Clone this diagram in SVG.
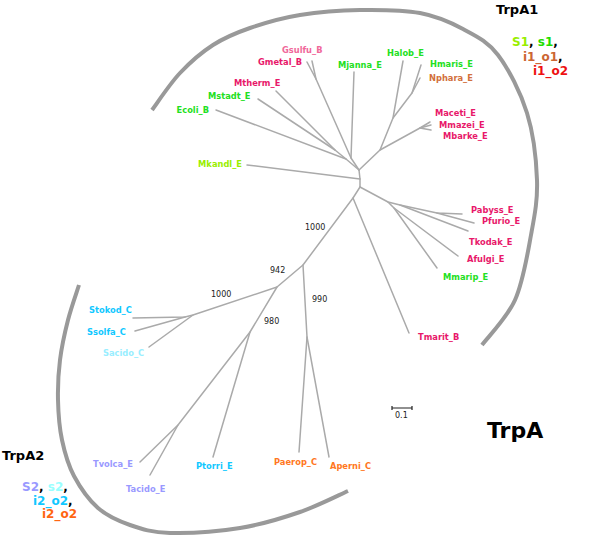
<svg xmlns="http://www.w3.org/2000/svg" width="600" height="539" viewBox="0 0 600 539">
<style>
.br{fill:none;stroke:#aaaaaa;stroke-width:1.5;stroke-linecap:round;stroke-linejoin:round}
.arc{fill:none;stroke:#999999;stroke-width:4}
.lb{font-family:"DejaVu Sans",Verdana,sans-serif;font-weight:bold;font-size:8.3px}
.bs{font-family:"DejaVu Sans",Verdana,sans-serif;font-size:8px;fill:#222}
.big{font-family:"DejaVu Sans",Verdana,sans-serif;font-weight:bold}
.mag{fill:#e8186a}.pink{fill:#f0689a}.grn{fill:#22e022}.yg{fill:#99ee00}.brn{fill:#d2703c}
.cy{fill:#11c8ff}.lcy{fill:#99eeff}.lav{fill:#9999ff}.org{fill:#ff7722}
</style>
<rect width="600" height="539" fill="#ffffff"/>
<g id="arcs">
<path id="arc1" class="arc" d="M152,110 C156.7,103.8 169.8,83.8 180,73 C190.2,62.2 201.3,52.5 213,45 C224.7,37.5 235.5,33 250,28 C264.5,23 281.7,18 300,15 C318.3,12 340,10.3 360,10 C380,9.7 402.8,9.8 420,13 C437.2,16.2 450,22 463,29 C476,36 487.3,41 498,55 C508.7,69 520.5,92.2 527,113 C533.5,133.8 536.3,159.7 537,180 C537.7,200.3 534.7,215 531,235 C527.3,255 523.2,281.7 515,300 C506.8,318.3 487.5,337.5 482,345"/>
<path id="arc2" class="arc" d="M79,285 C77.2,290.8 71.2,307.5 68,320 C64.8,332.5 61.7,346.7 60,360 C58.3,373.3 57.7,386.7 58,400 C58.3,413.3 59.3,427.3 62,440 C64.7,452.7 68,464.7 74,476 C80,487.3 88.7,499.8 98,508 C107.3,516.2 118,520.8 130,525 C142,529.2 151.7,532.5 170,533 C188.3,533.5 218.3,531.5 240,528 C261.7,524.5 282,518.2 300,512 C318,505.8 340,494.5 348,491"/>
</g>
<g id="connectors">
<path class="br" d="M359,170 L360,179 L360,187"/>
<path class="br" d="M247,165 L360,179"/>
<path class="br" d="M354,72 L351,158 L359,170"/>
<path class="br" d="M307,62 L316,79 L351,158"/>
<path class="br" d="M312,61 L316,79"/>
<path class="br" d="M276,91 L335,150 L346,159 L359,170"/>
<path class="br" d="M258,99 L335,150"/>
<path class="br" d="M216,110 L346,159"/>
<path class="br" d="M359,170 L380,150 L420,128 L430,122"/>
<path class="br" d="M420,128 L431,125"/>
<path class="br" d="M420,128 L431,130"/>
<path class="br" d="M380,150 L393,118 L403,61"/>
<path class="br" d="M393,118 L412,93 L421,65"/>
<path class="br" d="M412,93 L420,78"/>
<path class="br" d="M360,187 L388,202 L400,205 L437,213 L462,214"/>
<path class="br" d="M437,213 L474,223"/>
<path class="br" d="M400,205 L468,231"/>
<path class="br" d="M388,202 L394,208 L458,256"/>
<path class="br" d="M394,208 L437,268"/>
<path class="br" d="M360,187 L353,198 L409,333"/>
<path class="br" d="M353,198 L303,265 L277,287 L193,315 L185,317 L133,318"/>
<path class="br" d="M185,317 L135,331"/>
<path class="br" d="M193,315 L149,347"/>
<path class="br" d="M303,265 L307,337 L299,452"/>
<path class="br" d="M307,337 L329,457"/>
<path class="br" d="M277,287 L250,332 L178,425 L140,462"/>
<path class="br" d="M178,425 L150,475"/>
<path class="br" d="M250,332 L213,457"/>
</g>
<g id="scalebar">
<path d="M392,406 L392,410 M392,408 L412,408 M412,406 L412,410" fill="none" stroke="#222" stroke-width="1.2"/>
<text class="bs" x="395" y="418">0.1</text>
</g>
<g id="bootstrap">
<text class="bs" x="305" y="230">1000</text>
<text class="bs" x="270" y="273">942</text>
<text class="bs" x="211" y="297">1000</text>
<text class="bs" x="312" y="302">990</text>
<text class="bs" x="264" y="324">980</text>
</g>
<g id="leaves">
<g id="Gsulfu_B"><text class="lb pink" x="282" y="52.5">Gsulfu_B</text></g>
<g id="Gmetal_B"><text class="lb mag" x="258" y="64.5">Gmetal_B</text></g>
<g id="Mtherm_E"><text class="lb mag" x="234" y="86">Mtherm_E</text></g>
<g id="Mstadt_E"><text class="lb grn" x="208" y="99">Mstadt_E</text></g>
<g id="Ecoli_B"><text class="lb grn" x="209" y="113" text-anchor="end">Ecoli_B</text></g>
<g id="Mjanna_E"><text class="lb grn" x="338" y="67.5">Mjanna_E</text></g>
<g id="Halob_E"><text class="lb grn" x="387" y="55.5">Halob_E</text></g>
<g id="Hmaris_E"><text class="lb grn" x="430" y="67">Hmaris_E</text></g>
<g id="Nphara_E"><text class="lb brn" x="429" y="81">Nphara_E</text></g>
<g id="Maceti_E"><text class="lb mag" x="435" y="116">Maceti_E</text></g>
<g id="Mmazei_E"><text class="lb mag" x="439" y="127.5">Mmazei_E</text></g>
<g id="Mbarke_E"><text class="lb mag" x="443" y="139">Mbarke_E</text></g>
<g id="Mkandl_E"><text class="lb yg" x="242" y="167" text-anchor="end">Mkandl_E</text></g>
<g id="Pabyss_E"><text class="lb mag" x="471" y="213">Pabyss_E</text></g>
<g id="Pfurio_E"><text class="lb mag" x="482" y="224">Pfurio_E</text></g>
<g id="Tkodak_E"><text class="lb mag" x="469" y="245">Tkodak_E</text></g>
<g id="Afulgi_E"><text class="lb mag" x="467" y="262">Afulgi_E</text></g>
<g id="Mmarip_E"><text class="lb grn" x="443" y="280">Mmarip_E</text></g>
<g id="Tmarit_B"><text class="lb mag" x="418" y="340">Tmarit_B</text></g>
<g id="Paerop_C"><text class="lb org" x="274" y="465">Paerop_C</text></g>
<g id="Aperni_C"><text class="lb org" x="330" y="469">Aperni_C</text></g>
<g id="Stokod_C"><text class="lb cy" x="89" y="313">Stokod_C</text></g>
<g id="Ssolfa_C"><text class="lb cy" x="87" y="335">Ssolfa_C</text></g>
<g id="Sacido_C"><text class="lb lcy" x="103" y="356">Sacido_C</text></g>
<g id="Tvolca_E"><text class="lb lav" x="93" y="467">Tvolca_E</text></g>
<g id="Tacido_E"><text class="lb lav" x="126" y="492">Tacido_E</text></g>
<g id="Ptorri_E"><text class="lb cy" x="196" y="469">Ptorri_E</text></g>
</g>
<g id="titles">
<text class="big" x="496" y="14" font-size="13" fill="#000">TrpA1</text>
<text class="big" x="512" y="46" font-size="12"><tspan fill="#99ee00">S1</tspan><tspan fill="#000">, </tspan><tspan fill="#22dd00">s1</tspan><tspan fill="#000">,</tspan></text>
<text class="big" x="523" y="61" font-size="12"><tspan fill="#cc6633">i1_o1</tspan><tspan fill="#000">,</tspan></text>
<text class="big" x="533" y="75" font-size="12" fill="#ee1111">i1_o2</text>
<text class="big" x="2" y="460" font-size="13" fill="#000">TrpA2</text>
<text class="big" x="22" y="491" font-size="12"><tspan fill="#9999ff">S2</tspan><tspan fill="#000">, </tspan><tspan fill="#99ffff">s2</tspan><tspan fill="#000">,</tspan></text>
<text class="big" x="33" y="505" font-size="12"><tspan fill="#11c8ff">i2_o2</tspan><tspan fill="#000">,</tspan></text>
<text class="big" x="42" y="518" font-size="12" fill="#ff6611">i2_o2</text>
<text class="big" x="487" y="438" font-size="22" fill="#000">TrpA</text>
</g>
</svg>
